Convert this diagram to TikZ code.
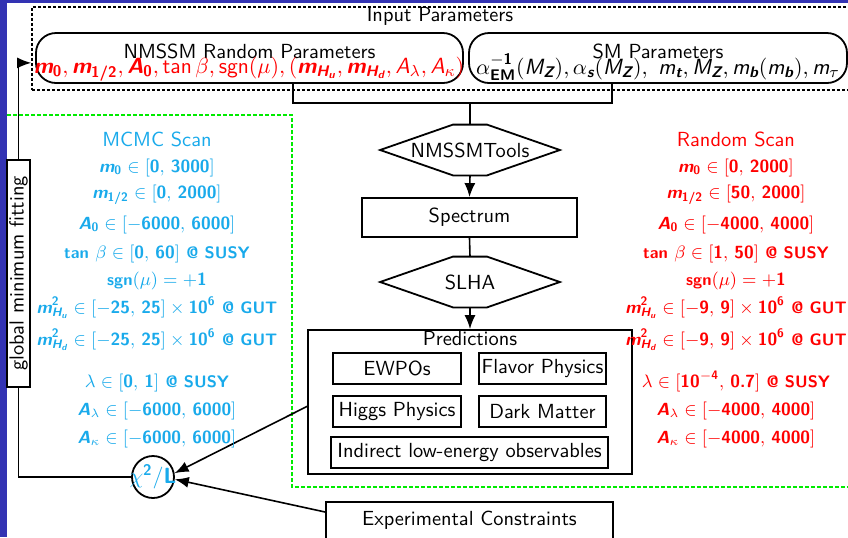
\documentclass[tikz,border=0pt]{standalone}
\usepackage{amsmath}
\usepackage{fontspec}
\renewcommand\familydefault{\sfdefault}
\usetikzlibrary{arrows.meta,calc}
\definecolor{mcmc}{RGB}{25,170,235}
\definecolor{rnd}{RGB}{255,0,0}
\definecolor{grn}{RGB}{0,235,0}
\definecolor{slide}{RGB}{51,51,179}
\newcommand\bv[1]{\textsf{\bfseries\itshape #1}}
\newcommand\bn[1]{\textsf{\bfseries #1}}
\newcommand\iv[1]{\textsf{\itshape #1}}
\newcommand\st[1]{{\fontsize{8.3}{9}\selectfont #1}}
\newcommand\hexpath[1]{\draw[line width=0.9pt] (#1.west) -- ([xshift=-8.5pt]#1.north) -- ([xshift=8.5pt]#1.north) -- (#1.east) -- ([xshift=8.5pt]#1.south) -- ([xshift=-8.5pt]#1.south) -- cycle;}
\begin{document}
\begin{tikzpicture}[x=0.5pt,y=-0.5pt,
  every node/.style={font=\fontsize{10.2}{12}\selectfont},
  box/.style={draw, line width=0.9pt, inner sep=0pt},
  rbox/.style={draw, line width=0.9pt, rounded corners=10pt, inner sep=0pt},
  hexa/.style={inner sep=0pt, minimum width=89.5pt, minimum height=25pt},
  conn/.style={line width=0.8pt},
  arr/.style={conn, -{Latex[length=7pt,width=5.5pt]}},
  colmc/.style={anchor=base, text=mcmc, font=\fontsize{8.8}{10}\selectfont\bfseries},
  colrs/.style={anchor=base, text=rnd, font=\fontsize{8.8}{10}\selectfont\bfseries},
  ttl/.style={anchor=base},
  fml/.style={anchor=base, font=\fontsize{11}{12}\selectfont},
  inpbox/.style={draw, line width=0.8pt, dash pattern=on 1.3pt off 1.2pt, inner sep=0pt},
  grnline/.style={draw=grn, line width=0.9pt, dash pattern=on 2pt off 1pt}
]
\useasboundingbox (0,0) rectangle (848,537);
\fill[white] (0,0) rectangle (848,537);
\fill[slide] (0,0) rectangle (7,537);
\fill[slide] (0,0) rectangle (848,3);

% green scan region outline
\draw[grnline] (7,115) -- (292,115) -- (292,487) -- (860,487);

% input parameters
\node[inpbox, minimum width=419pt, minimum height=41.5pt] (inp) at (451,48.5) {};
\node (inpt) at (440,16) {Input Parameters};
\node[rbox, minimum width=213.5pt, minimum height=25pt] (nm) at (249.5,58) {};
\node[ttl] (nmt) at (249.5,58) {NMSSM Random Parameters};
\node[fml, text=rnd] (nmf) at (249,73) {$\bv{m}_{\bn{0}}, \bv{m}_{\bn{1/2}}, \bv{A}_{\bn{0}}, \textsf{tan}\,\beta, \textsf{sgn}(\mu), (\bv{m}_{\bv{H}_{\bv{u}}}, \bv{m}_{\bv{H}_{\bv{d}}}, \iv{A}_\lambda, \iv{A}_\kappa)$};
\node[rbox, minimum width=189pt, minimum height=25pt] (sm) at (658,58) {};
\node[ttl] (smt) at (658,58) {SM Parameters};
\node[fml] (smf) at (658,74) {$\alpha^{-\bn{1}}_{\bn{EM}}(\iv{M}_{\bv{Z}}), \alpha_{\bv{s}}(\iv{M}_{\bv{Z}}),\ \iv{m}_{\bv{t}}, \iv{M}_{\bv{Z}}, \iv{m}_{\bv{b}}(\iv{m}_{\bv{b}}), \iv{m}_\tau$};

% flow chain
\node[hexa] (nt) at (470,150) {NMSSMTools};
\hexpath{nt}
\node[box, minimum width=107.5pt, minimum height=19.5pt] (spec) at (469.5,217.5) {Spectrum};
\node[hexa] (sl) at (470,282) {SLHA};
\hexpath{sl}
\node[box, minimum width=162pt, minimum height=72pt] (pred) at (470,402) {};
\node[ttl] (predt) at (470,345) {Predictions};
\node[box, minimum width=64pt, minimum height=15.5pt] (ew) at (397,368.5) {EWPOs};
\node[box, minimum width=63.5pt, minimum height=15.5pt] (fl) at (542.5,368.5) {Flavor Physics};
\node[box, minimum width=64pt, minimum height=15.5pt] (hg) at (397,411.5) {Higgs Physics};
\node[box, minimum width=63.5pt, minimum height=15.5pt] (dm) at (542.5,411.5) {Dark Matter};
\node[box, minimum width=138.5pt, minimum height=15.5pt] (ind) at (469.5,452.5) {Indirect low-energy observables};
\node[box, anchor=north, minimum width=143.5pt, text height=12pt, text depth=10pt, inner ysep=0pt] (ec) at (469.5,501) {Experimental Constraints};

\node[draw, circle, line width=0.9pt, minimum size=21pt, inner sep=0pt, text=mcmc, font=\fontsize{11}{12}\selectfont] (chi) at (153,477) {\makebox[0pt]{$\chi^{\bn{2}}/\bn{L}$}};
\node[box, minimum width=11.5pt, minimum height=113.5pt, inner sep=0.5pt] (gm) at (18.5,273.5) {\rotatebox{90}{global minimum fitting}};

% connectors
\coordinate (j1) at (293,103);
\coordinate (j2) at (612,103);
\coordinate (jm) at (470,103);
\draw[conn] (nm.south -| j1) -- (j1) -- (j2) -- (sm.south -| j2);
\draw[conn] (jm) -- (nt.north);
\draw[arr] (nt.south) -- (spec.north);
\draw[conn] (spec.south) -- (sl.north);
\draw[arr] (sl.south) -- (pred.north);
\draw[arr] ($(pred.north west)!0.53!(pred.south west)$) -- (chi.10);
\draw[arr] ([yshift=-5.5pt]ec.north west) -- (chi.-6);
\draw[conn] (chi.west) -| (gm.south);
\draw[arr] (gm.north) |- ($(inp.north west)!0.67!(inp.south west)$);

% MCMC column
\node[ttl, text=mcmc] (mct) at (157,146) {MCMC Scan};
\node[colmc] (mc1) at (157,172) {$\bv{m}_{\bn{0}} \in [\bn{0},\, \bn{3000}]$};
\node[colmc] (mc2) at (157,198) {$\bv{m}_{\bn{1/2}} \in [\bn{0},\, \bn{2000}]$};
\node[colmc] (mc3) at (157,229) {$\bv{A}_{\bn{0}} \in [-\bn{6000},\, \bn{6000}]$};
\node[colmc] (mc4) at (157,258) {\st{tan} $\beta \in [\bn{0},\, \bn{60}]$ \st{@ SUSY}};
\node[colmc] (mc5) at (157,285) {\st{sgn}$(\mu) = +\bn{1}$};
\node[colmc] (mc6) at (157,313) {$\bv{m}^{\bn{2}}_{\bv{H}_{\bv{u}}} \in [-\bn{25},\, \bn{25}] \times \bn{10}^{\bn{6}}$ \st{@ GUT}};
\node[colmc] (mc7) at (157,345) {$\bv{m}^{\bn{2}}_{\bv{H}_{\bv{d}}} \in [-\bn{25},\, \bn{25}] \times \bn{10}^{\bn{6}}$ \st{@ GUT}};
\node[colmc] (mc8) at (157,387) {$\lambda \in [\bn{0},\, \bn{1}]$ \st{@ SUSY}};
\node[colmc] (mc9) at (157,415) {$\bv{A}_{\lambda} \in [-\bn{6000},\, \bn{6000}]$};
\node[colmc] (mc10) at (157,443) {$\bv{A}_{\kappa} \in [-\bn{6000},\, \bn{6000}]$};

% Random column
\node[ttl, text=rnd] (rst) at (736,146) {Random Scan};
\node[colrs] (rs1) at (736,172) {$\bv{m}_{\bn{0}} \in [\bn{0},\, \bn{2000}]$};
\node[colrs] (rs2) at (736,198) {$\bv{m}_{\bn{1/2}} \in [\bn{50},\, \bn{2000}]$};
\node[colrs] (rs3) at (736,229) {$\bv{A}_{\bn{0}} \in [-\bn{4000},\, \bn{4000}]$};
\node[colrs] (rs4) at (736,258) {\st{tan} $\beta \in [\bn{1},\, \bn{50}]$ \st{@ SUSY}};
\node[colrs] (rs5) at (736,285) {\st{sgn}$(\mu) = +\bn{1}$};
\node[colrs] (rs6) at (736,313) {$\bv{m}^{\bn{2}}_{\bv{H}_{\bv{u}}} \in [-\bn{9},\, \bn{9}] \times \bn{10}^{\bn{6}}$ \st{@ GUT}};
\node[colrs] (rs7) at (736,345) {$\bv{m}^{\bn{2}}_{\bv{H}_{\bv{d}}} \in [-\bn{9},\, \bn{9}] \times \bn{10}^{\bn{6}}$ \st{@ GUT}};
\node[colrs] (rs8) at (736,387) {$\lambda \in [\bn{10}^{-\bn{4}},\, \bn{0.7}]$ \st{@ SUSY}};
\node[colrs] (rs9) at (736,415) {$\bv{A}_{\lambda} \in [-\bn{4000},\, \bn{4000}]$};
\node[colrs] (rs10) at (736,443) {$\bv{A}_{\kappa} \in [-\bn{4000},\, \bn{4000}]$};
\end{tikzpicture}
\end{document}
